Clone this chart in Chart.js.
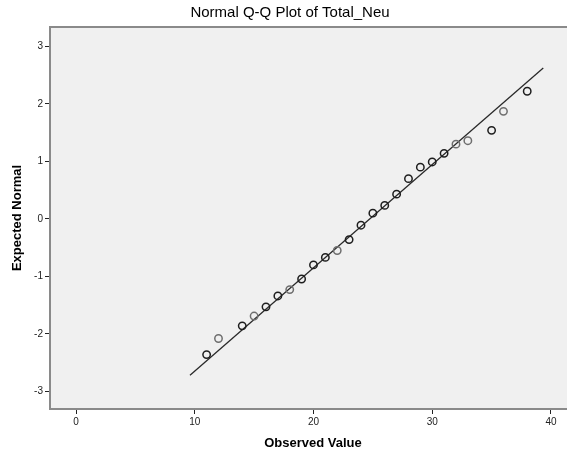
<!DOCTYPE html>
<html lang="en">

<head>
    <meta charset="UTF-8">
    <title>Normal Q-Q Plot of Total_Neu</title>
    <script src="https://cdn.jsdelivr.net/npm/chart.js"></script>
    <style>
        html, body { margin: 0; padding: 0; background: #ffffff; }
        #qqChart { display: block; }
    </style>
</head>

<body>
    <canvas id="qqChart" width="567" height="455"></canvas>

    <script>
        // observed values and their expected normal scores
        const observed = [11, 12, 14, 15, 16, 17, 18, 19, 20, 21, 22, 23, 24, 25, 26, 27, 28, 29, 30, 31, 32, 33, 35, 36, 38];
        const expected = [-2.36, -2.08, -1.86, -1.69, -1.53, -1.34, -1.23, -1.045, -0.80, -0.67, -0.55, -0.36, -0.11, 0.10, 0.235, 0.43, 0.70, 0.90, 0.99, 1.14, 1.30, 1.36, 1.54, 1.87, 2.22];

        // reference line endpoints
        const lineX = [9.6, 39.35];
        const lineY = [-2.72, 2.624];

        const xTicks = [0, 10, 20, 30, 40];
        const yTicks = [-3, -2, -1, 0, 1, 2, 3];

        // points that come out a little lighter
        const lighter = [12, 15, 18, 22, 32, 33, 36];

        const font = "'Liberation Sans', Arial, sans-serif";

        const frame = {
            id: 'frame',
            beforeDraw(chart) {
                const { ctx, chartArea: a } = chart;
                ctx.save();
                ctx.fillStyle = '#f0f0f0';
                ctx.fillRect(a.left, a.top, a.right - a.left, a.bottom - a.top);
                ctx.strokeStyle = '#8a8a8a';
                ctx.lineWidth = 2;
                ctx.beginPath();
                ctx.moveTo(a.left, a.top);
                ctx.lineTo(a.right, a.top);
                ctx.stroke();
                ctx.restore();
            },
            afterDraw(chart) {
                const { ctx } = chart;
                ctx.save();
                ctx.fillStyle = '#000000';
                ctx.textAlign = 'center';
                ctx.textBaseline = 'middle';
                ctx.font = '15px ' + font;
                ctx.fillText('Normal Q-Q Plot of Total_Neu', 290, 13);
                ctx.font = 'bold 13px ' + font;
                ctx.fillText('Observed Value', 313, 443);
                ctx.restore();
            }
        };

        function generateGraph() {
            const ctx = document.getElementById('qqChart').getContext('2d');

            const points = observed.map((x, i) => ({ x: x, y: expected[i] }));
            const line = lineX.map((x, i) => ({ x: x, y: lineY[i] }));

            const config = {
                type: 'scatter',
                data: {
                    datasets: [{
                        label: 'Observed',
                        data: points,
                        pointRadius: 3.7,
                        pointBorderWidth: 1.5,
                        pointBackgroundColor: 'rgba(0,0,0,0)',
                        pointBorderColor: observed.map(v => lighter.includes(v) ? '#6e6e6e' : '#1e1e1e'),
                        order: 1
                    }, {
                        type: 'line',
                        label: 'Reference',
                        data: line,
                        borderColor: '#2a2a2a',
                        borderWidth: 1.3,
                        pointRadius: 0,
                        fill: false,
                        order: 2
                    }]
                },
                options: {
                    responsive: false,
                    animation: false,
                    layout: { autoPadding: false, padding: { top: 27, right: 0, left: 0, bottom: 0 } },
                    scales: {
                        x: {
                            type: 'linear',
                            min: -2.19,
                            max: 41.35,
                            afterFit: s => { s.height = 46; s.paddingLeft = 0; s.paddingRight = 0; },
                            afterBuildTicks: s => { s.ticks = xTicks.map(v => ({ value: v })); },
                            ticks: { font: { family: font, size: 10 }, color: '#222', padding: 2 },
                            grid: { drawOnChartArea: false, drawTicks: true, tickLength: 5, tickColor: '#222' },
                            border: { display: true, color: '#8a8a8a', width: 2 }
                        },
                        y: {
                            type: 'linear',
                            min: -3.306,
                            max: 3.337,
                            afterFit: s => { s.width = 50; s.paddingTop = 0; s.paddingBottom = 0; },
                            afterBuildTicks: s => { s.ticks = yTicks.map(v => ({ value: v })); },
                            ticks: { font: { family: font, size: 10 }, color: '#222', padding: 2 },
                            grid: { drawOnChartArea: false, drawTicks: true, tickLength: 5, tickColor: '#222' },
                            border: { display: true, color: '#8a8a8a', width: 2 },
                            title: {
                                display: true,
                                text: 'Expected Normal',
                                color: '#000',
                                font: { family: font, size: 13, weight: 'bold' },
                                padding: { top: 10, bottom: 4 }
                            }
                        }
                    },
                    plugins: {
                        legend: { display: false },
                        tooltip: { enabled: false }
                    }
                },
                plugins: [frame]
            };
            new Chart(ctx, config);
        }

        document.addEventListener("DOMContentLoaded", () => {
            generateGraph();
        });
    </script>
</body>

</html>
